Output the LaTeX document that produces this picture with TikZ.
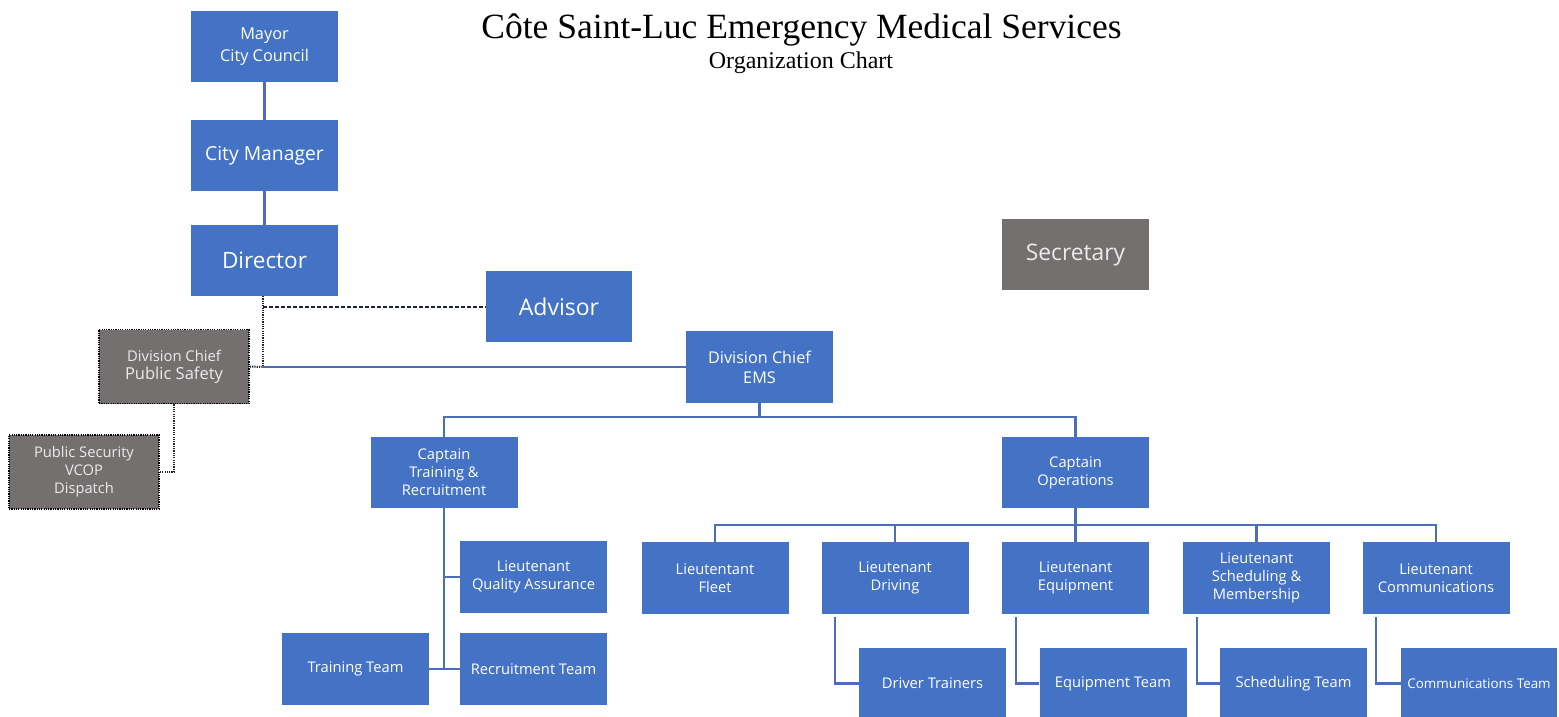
\documentclass[tikz,border=0pt]{standalone}
\usepackage{fontspec}
\setmainfont{Open Sans}
\newfontfamily\titlefont{Liberation Serif}
\usetikzlibrary{calc}
\definecolor{boxblue}{HTML}{4472C4}
\definecolor{lineblue}{HTML}{4A6FB8}
\definecolor{boxgray}{HTML}{747070}
\definecolor{darkline}{HTML}{1E2535}
\begin{document}
\begin{tikzpicture}[x=1pt,y=-1pt,
  bx/.style={fill=boxblue,text=white,minimum width=147pt,minimum height=71pt,inner sep=0pt,align=center,font=\fontsize{14.7}{18}\selectfont},
  gbx/.style={fill=boxgray,text=white!92!black,minimum width=147pt,minimum height=71pt,inner sep=0pt,align=center},
  dbx/.style={gbx,draw=black,line width=1.7pt,dash pattern=on 1.2pt off 1.1pt,minimum width=150pt,minimum height=74pt,font=\fontsize{14.7}{18}\selectfont},
  conn/.style={draw=lineblue,line width=2.2pt},
  dotconn/.style={draw=darkline,line width=2pt,dash pattern=on 1.2pt off 1.1pt},
  dashconn/.style={draw=darkline,line width=2pt,dash pattern=on 4pt off 2pt}]
\useasboundingbox (0,0) rectangle (1559,717);
\fill[white] (0,0) rectangle (1559,717);

\node (title) at (801.5,30) {\titlefont\fontsize{35.5}{35.5}\selectfont C\^ote Saint-Luc Emergency Medical Services};
\node (sub) at (801,63) {\titlefont\fontsize{24}{24}\selectfont Organization Chart};

\node[bx,font=\fontsize{16.3}{21.5}\selectfont] (mayor) at (264.5,46.5) {Mayor\\City Council};
\node[bx,font=\fontsize{19.3}{23}\selectfont] (cm) at (264.5,155.5) {City Manager};
\node[bx,font=\fontsize{22.5}{26}\selectfont] (dir) at (264.5,260.5) {Director};
\node[bx,font=\fontsize{23}{26}\selectfont,minimum width=146pt] (adv) at (559,306.5) {Advisor};
\node[gbx,font=\fontsize{22.8}{26}\selectfont] (sec) at (1075.5,254.5) {Secretary};
\node[bx,font=\fontsize{16.2}{20}\selectfont,minimum height=72pt] (ems) at (759.5,367) {Division Chief\\EMS};
\node[dbx] (ps) at (174,366.5) {{\fontsize{14.8}{18}\selectfont Division Chief}\\{\fontsize{16.5}{20}\selectfont Public Safety}};
\node[dbx] (psec) at (84,472) {Public Security\\VCOP\\Dispatch};

\node[bx] (ctr) at (444,472.5) {Captain\\Training \&\\Recruitment};
\node[bx] (cop) at (1075.5,472.5) {Captain\\Operations};

\node[bx,minimum height=72pt] (lqa) at (533.5,577) {Lieutenant\\Quality Assurance};
\node[bx,minimum height=72pt] (rteam) at (533.5,669) {Recruitment Team};
\node[bx,minimum height=72pt] (tteam) at (355.5,669) {Training Team};

\node[bx,minimum height=72pt] (lfleet) at (715,578) {Lieutentant\\Fleet};
\node[bx,minimum height=72pt] (ldrv) at (895,578) {Lieutenant\\Driving};
\node[bx,minimum height=72pt] (leq) at (1075.5,578) {Lieutenant\\Equipment};
\node[bx,minimum height=72pt] (lsch) at (1256.5,578) {Lieutenant\\Scheduling \&\\Membership};
\node[bx,minimum height=72pt] (lcom) at (1436,578) {Lieutenant\\Communications};

\node[bx] (dt) at (932.5,683.5) {Driver Trainers};
\node[bx] (et) at (1113,683.5) {Equipment Team};
\node[bx] (st) at (1293.5,683.5) {Scheduling Team};
\node[bx,minimum width=156pt,font=\fontsize{13.4}{16}\selectfont] (ct) at (1479,683.5) {Communications Team};

% top chain
\draw[conn] (mayor) -- (cm);
\draw[conn] (cm) -- (dir);

% director links
\coordinate (jtop) at (263,296);
\coordinate (jbot) at (jtop |- ems.west);
\coordinate (jadv) at (jtop |- adv.west);
\draw[conn] (jbot) -- (ems.west);
\draw[dotconn] (jtop) -- (jbot);
\draw[dashconn] (jadv) -- (adv.west);
\draw[dotconn] (ps.east) -- (jbot);
\draw[dotconn] (ps.south) |- (psec.east);

% EMS to captains
\coordinate (b1) at ($(ems.south)+(0,14)$);
\draw[conn] (ems.south) -- (b1);
\draw[conn] (b1) -| (ctr.north);
\draw[conn] (b1) -| (cop.north);

% training branch
\coordinate (tb) at (ctr.south |- rteam.west);
\draw[conn] (ctr.south) -- (tb);
\draw[conn] (tb) -- (rteam.west);
\draw[conn] (tb) -- (tteam.east);
\draw[conn] (ctr.south |- lqa.west) -- (lqa.west);

% operations branch
\coordinate (b2) at ($(cop.south)+(0,17)$);
\draw[conn] (cop.south) -- (leq.north);
\draw[conn] (lfleet.north) |- (b2);
\draw[conn] (ldrv.north) |- (b2);
\draw[conn] (lcom.north) |- (b2);
\draw[conn] (lsch.north) |- (b2);

% teams
\draw[conn] ($(ldrv.south west)+(14,3)$) |- (dt.west);
\draw[conn] ($(leq.south west)+(14,3)$) |- (et.west);
\draw[conn] ($(lsch.south west)+(14,3)$) |- (st.west);
\draw[conn] ($(lcom.south west)+(14,3)$) |- (ct.west);
\end{tikzpicture}
\end{document}
